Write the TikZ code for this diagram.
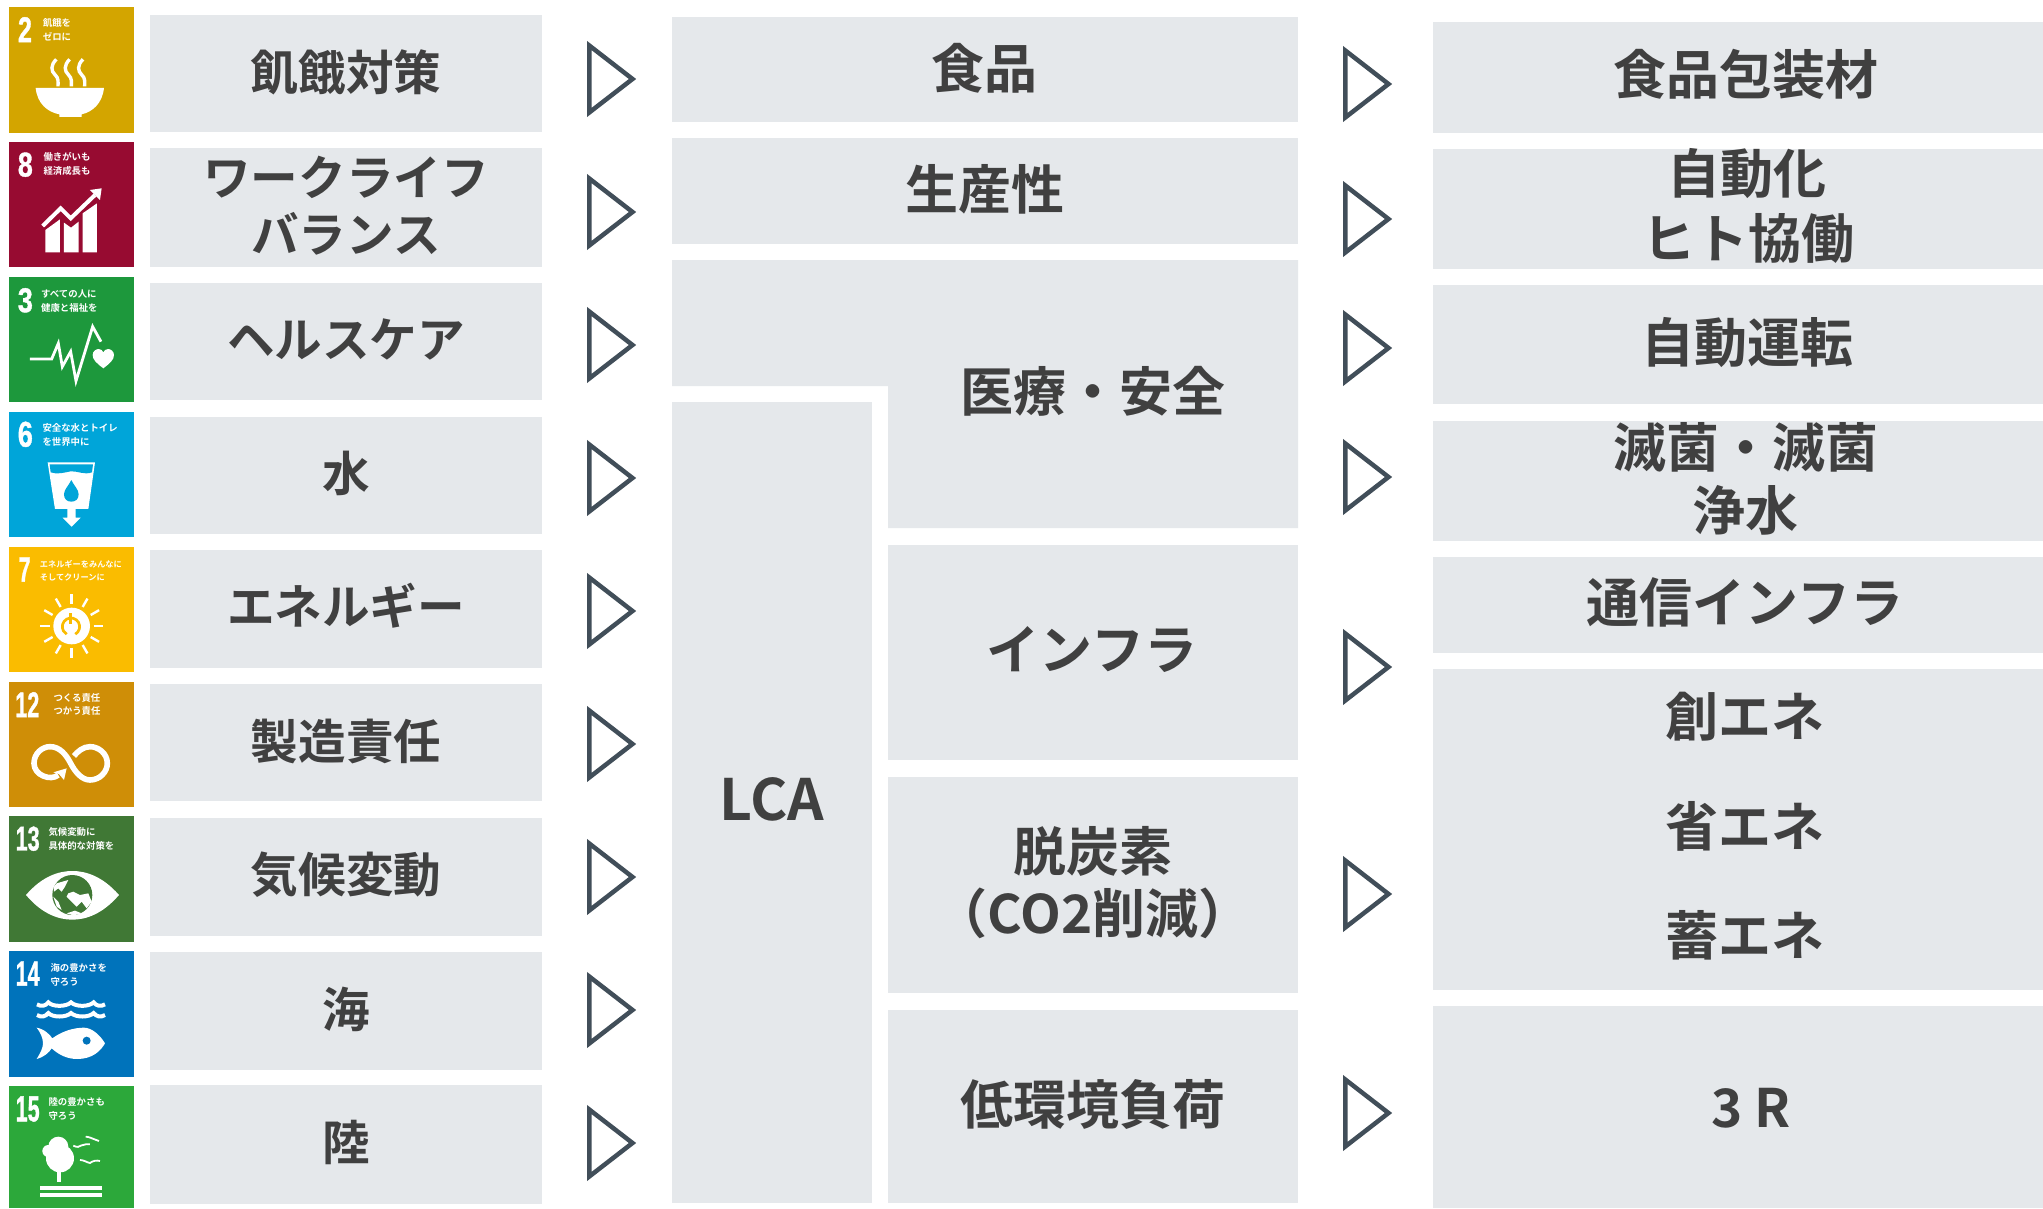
\documentclass[tikz,border=0pt]{standalone}
\usepackage{fontspec}
\usepackage{graphicx}
\newfontfamily\jpm{Noto Sans CJK JP Bold}
\newfontfamily\jpb{Noto Sans CJK JP Bold}
\newfontfamily\numf[FakeBold=1.2]{Liberation Sans Bold}
\definecolor{boxgray}{HTML}{E5E8EB}
\definecolor{txt}{HTML}{404040}
\definecolor{arr}{HTML}{414E59}
\definecolor{cA}{HTML}{D3A500}
\definecolor{cB}{HTML}{970B31}
\definecolor{cC}{HTML}{1D983C}
\definecolor{cD}{HTML}{00A5D9}
\definecolor{cE}{HTML}{FABC00}
\definecolor{cF}{HTML}{CF8E07}
\definecolor{cG}{HTML}{407835}
\definecolor{cH}{HTML}{0073BB}
\definecolor{cI}{HTML}{2CA83A}
\newcommand\bx[4]{\fill[boxgray] (#1,#2) rectangle (#3,#4);}
\newcommand\lblA[4]{\node[lab,font=\jpm\fontsize{47.6}{47.6}\selectfont] (#1) at (#2,#3) {#4};}
\newcommand\lblB[4]{\node[lab,font=\jpm\fontsize{53}{53}\selectfont] (#1) at (#2,#3) {#4};}
\newcommand\tri[2]{\draw[line width=4.5pt,arr,miter limit=20] (#1+2.25,#2-33.5) -- (#1+45.5,#2) -- (#1+2.25,#2+33.5) -- cycle;}
\newcommand\tnum[6]{\node[inner sep=0pt,white] (#1) at (#2,#3) {\resizebox{#4pt}{#5pt}{\numf #6}};}
\newcommand\tsm[4]{\node[anchor=west,inner sep=0pt,white,font=\jpb\fontsize{9.4}{9.4}\selectfont] (#1) at (#2,#3) {#4};}
\begin{document}
\begin{tikzpicture}[x=1pt,y=-1pt,
  lab/.style={inner sep=0pt,text=txt,align=center},
  tl/.style={x=.3333pt,y=-.3333pt}]
\useasboundingbox (0,0) rectangle (2043,1208);
\fill[white] (0,0) rectangle (2043,1208);
% column 1 boxes
\bx{150}{15}{542}{132}
\bx{150}{148}{542}{267}
\bx{150}{283}{542}{400}
\bx{150}{417}{542}{534}
\bx{150}{550}{542}{668}
\bx{150}{684}{542}{801}
\bx{150}{818}{542}{936}
\bx{150}{952}{542}{1070}
\bx{150}{1085}{542}{1204}
\lblA{a1}{346}{72}{飢餓対策}
\lblA{a2a}{346}{177}{ワークライフ}
\lblA{a2b}{346}{234}{バランス}
\lblA{a3}{346}{339}{ヘルスケア}
\lblA{a4}{346}{473}{水}
\lblA{a5}{346}{606}{エネルギー}
\lblA{a6}{346}{741}{製造責任}
\lblA{a7}{346}{875}{気候変動}
\lblA{a8}{346}{1009}{海}
\lblA{a9}{346}{1142}{陸}
% arrows 1
\foreach \cy in {79,212,345,478,611,744,877,1010,1143} {\tri{587}{\cy}}
% column 2
\bx{672}{17}{1298}{122}
\bx{672}{138}{1298}{244}
\fill[boxgray] (672,260) -- (1298,260) -- (1298,528) -- (888,528) -- (888,386) -- (672,386) -- cycle;
\bx{672}{402}{872}{1203}
\bx{888}{545}{1298}{760}
\bx{888}{777}{1298}{993}
\bx{888}{1010}{1298}{1203}
\lblB{b1}{984}{68}{食品}
\lblB{b2}{985}{189}{生産性}
\lblB{b3}{1093}{391}{医療・安全}
\node[lab,font=\jpm\fontsize{57}{57}\selectfont] (b4) at (772,799) {LCA};
\lblB{b5}{1092}{650}{インフラ}
\lblB{b6a}{1093}{851}{脱炭素}
\lblB{b6b}{1093}{913}{（CO2削減）}
\lblB{b7}{1093}{1104}{低環境負荷}
% arrows 2
\foreach \cy in {84,219,348,477,667,894,1113} {\tri{1343}{\cy}}
% column 3
\bx{1433}{22}{2043}{133}
\bx{1433}{149}{2043}{269}
\bx{1433}{285}{2043}{404}
\bx{1433}{421}{2043}{541}
\bx{1433}{557}{2043}{653}
\bx{1433}{669}{2043}{990}
\bx{1433}{1006}{2043}{1208}
\lblB{c1}{1746}{74}{食品包装材}
\lblB{c2a}{1747}{174}{自動化}
\lblB{c2b}{1748}{238}{ヒト協働}
\lblB{c3}{1747}{343}{自動運転}
\lblB{c4a}{1746}{447}{滅菌・滅菌}
\lblB{c4b}{1745}{510}{浄水}
\lblB{c5}{1745}{602}{通信インフラ}
\lblB{c6a}{1745}{717}{創エネ}
\lblB{c6b}{1745}{826}{省エネ}
\lblB{c6c}{1745}{935}{蓄エネ}
\lblB{c7}{1751}{1108}{3 R}
% tile 2
\begin{scope}[shift={(9,7)},tl]
\fill[cA] (0,0) rectangle (375,378);
\tnum{n2}{48}{68}{14}{25}{2}
\tsm{s2a}{101}{47}{飢餓を}
\tsm{s2b}{101}{90}{ゼロに}
\fill[white] (80,243) -- (285,243) .. controls (280,290) and (250,315) .. (218,322) -- (218,330) -- (151,330) -- (151,322) .. controls (115,315) and (85,290) .. (80,243) -- cycle;
\foreach \xx in {138,178,218}
  \draw[white,line width=3.4pt] (\xx+4,157) .. controls (\xx-14,175) and (\xx-12,192) .. (\xx,203) .. controls (\xx+12,214) and (\xx+9,226) .. (\xx+9,238);
\end{scope}
% tile 8
\begin{scope}[shift={(9,142)},tl]
\fill[cB] (0,0) rectangle (375,375);
\tnum{n8}{49}{68}{15}{24}{8}
\tsm{s8a}{103}{46}{働きがいも}
\tsm{s8b}{103}{87}{経済成長も}
\fill[white] (109,331) -- (109,264) -- (153,232) -- (153,331) -- cycle;
\fill[white] (165,331) -- (165,242) -- (186,257) -- (209,239) -- (209,331) -- cycle;
\fill[white] (221,331) -- (221,214) -- (264,184) -- (264,331) -- cycle;
\draw[white,line width=4pt] (101,252) -- (155,199) -- (185,229) -- (258,159);
\fill[white] (278,139) -- (243,144) -- (273,174) -- cycle;
\end{scope}
% tile 3
\begin{scope}[shift={(9,277)},tl]
\fill[cC] (0,0) rectangle (375,375);
\tnum{n3}{49}{70}{15}{24}{3}
\tsm{s3a}{96}{50}{すべての人に}
\tsm{s3b}{96}{92}{健康と福祉を}
\draw[white,line width=2.8pt,line join=miter] (63,246) -- (128,246) -- (148,199) -- (160,269) -- (185,224) -- (201,312) -- (251,149) -- (276,194);
\fill[white] (283,274) .. controls (262,258) and (251,248) .. (251,234) .. controls (251,222) and (262,216) .. (269,216) .. controls (276,216) and (281,221) .. (283,226) .. controls (285,221) and (290,216) .. (297,216) .. controls (304,216) and (315,222) .. (315,234) .. controls (315,248) and (304,258) .. (283,274) -- cycle;
\end{scope}
% tile 6
\begin{scope}[shift={(9,412)},tl]
\fill[cD] (0,0) rectangle (375,375);
\tnum{n6}{49}{67}{15}{25}{6}
\tsm{s6a}{100}{49}{安全な水とトイレ}
\tsm{s6b}{100}{91}{を世界中に}
\fill[white] (116,151) -- (258,151) -- (238,291) -- (200,291) -- (200,317) -- (215,317) -- (188,344) -- (161,317) -- (175,317) -- (175,291) -- (138,291) -- cycle;
\fill[cD] (122,157) -- (252,157) -- (249,181) .. controls (225,190) and (205,176) .. (185,178) .. controls (165,182) and (145,188) .. (125,181) -- cycle;
\fill[cD] (187,204) .. controls (180,220) and (165,232) .. (165,247) .. controls (165,262) and (175,269) .. (187,269) .. controls (199,269) and (209,262) .. (209,247) .. controls (209,232) and (194,220) .. (187,204) -- cycle;
\end{scope}
% tile 7
\begin{scope}[shift={(9,547)},tl]
\fill[cE] (0,0) rectangle (375,375);
\tnum{n7}{47}{68}{12}{24}{7}
\tsm{s7a}{92}{51}{\fontsize{8.2}{8.2}\selectfont エネルギーをみんなに}
\tsm{s7b}{92}{92}{\fontsize{8.2}{8.2}\selectfont そしてクリーンに}
\fill[white] (188,237) circle[radius=55];
\foreach \ang in {0,30,...,330}
  \draw[white,line width=2.4pt] (188,237) ++(\ang:66) -- ++(\ang:29);
\draw[cE,line width=2.7pt] (186,239) ++(60:26) arc[start angle=60,end angle=-240,radius=26];
\draw[cE,line width=2.7pt] (185,199) -- (185,232);
\end{scope}
% tile 12
\begin{scope}[shift={(9,682)},tl]
\fill[cF] (0,0) rectangle (375,375);
\tnum{n12}{55}{68}{24}{25}{12}
\tsm{s12a}{133}{48}{つくる責任}
\tsm{s12b}{133}{87}{つかう責任}
\draw[white,line width=5.6pt] (148,279) .. controls (125,298) and (75,280) .. (75,244) .. controls (75,214) and (100,194) .. (123,194) .. controls (153,194) and (172,219) .. (185,244) .. controls (198,269) and (218,294) .. (243,294) .. controls (273,294) and (295,269) .. (295,244) .. controls (295,214) and (268,194) .. (243,194) .. controls (223,194) and (205,209) .. (195,222);
\fill[white] (173,259) -- (133,271) -- (150,276) -- (165,294) -- cycle;
\end{scope}
% tile 13
\begin{scope}[shift={(9,816)},tl]
\fill[cG] (0,0) rectangle (375,378);
\tnum{n13}{56}{68}{24}{24}{13}
\tsm{s13a}{118}{47}{気候変動に}
\tsm{s13b}{118}{89}{具体的な対策を}
\fill[white] (51,237) .. controls (100,180) and (150,165) .. (190,165) .. controls (230,165) and (280,180) .. (330,237) .. controls (280,295) and (230,311) .. (190,311) .. controls (150,311) and (100,295) .. (51,237) -- cycle;
\fill[cG] (190,237) circle[radius=60];
\fill[white] (143,202) -- (178,192) -- (168,212) -- (158,227) -- (148,217) -- (135,227) -- (135,212) -- cycle;
\fill[white] (178,232) -- (193,227) -- (213,237) -- (238,232) -- (248,257) -- (233,277) -- (218,257) -- (203,272) -- (188,257) -- (173,242) -- cycle;
\fill[white] (173,292) -- (198,284) -- (218,292) -- (193,298) -- cycle;
\fill[white] (133,242) -- (148,257) -- (158,282) -- (143,272) -- cycle;
\end{scope}
% tile 14
\begin{scope}[shift={(9,951)},tl]
\fill[cH] (0,0) rectangle (375,378);
\tnum{n14}{56}{68}{24}{24}{14}
\tsm{s14a}{124}{50}{海の豊かさを}
\tsm{s14b}{124}{92}{守ろう}
\foreach \yy in {0,32}
  \draw[white,line width=4pt] (84,160+\yy) .. controls (97,168+\yy) and (110,165+\yy) .. (118,154+\yy) .. controls (130,168+\yy) and (172,168+\yy) .. (186,154+\yy) .. controls (200,168+\yy) and (240,168+\yy) .. (254,154+\yy) .. controls (262,165+\yy) and (275,168+\yy) .. (288,160+\yy);
\fill[white] (83,230) .. controls (110,235) and (125,255) .. (130,262) .. controls (160,240) and (195,230) .. (225,230) .. controls (250,230) and (275,255) .. (288,277) .. controls (275,300) and (250,324) .. (205,324) .. controls (175,324) and (150,312) .. (128,292) .. controls (120,305) and (105,318) .. (83,324) .. controls (95,305) and (102,290) .. (102,277) .. controls (102,262) and (95,245) .. (83,230) -- cycle;
\fill[cH] (233,269) circle[radius=12];
\end{scope}
% tile 15
\begin{scope}[shift={(9,1086)},tl]
\fill[cI] (0,0) rectangle (375,366);
\tnum{n15}{56}{69}{24}{25}{15}
\tsm{s15a}{118}{49}{陸の豊かさも}
\tsm{s15b}{118}{90}{守ろう}
\fill[white] (148,182) circle[radius=30];
\fill[white] (118,195) circle[radius=18];
\fill[white] (153,217) circle[radius=42];
\fill[white] (144,257) rectangle (156,287);
\fill[white] (93,299) rectangle (279,313);
\fill[white] (93,320) rectangle (279,334);
\draw[white,line width=1.8pt] (193,179) .. controls (203,184) and (212,184) .. (218,178) .. controls (225,174) and (235,175) .. (243,175);
\draw[white,line width=1.8pt] (230,152) .. controls (240,152) and (250,158) .. (270,165);
\draw[white,line width=1.8pt] (213,222) .. controls (225,222) and (235,230) .. (243,231) .. controls (250,225) and (262,222) .. (273,225);
\end{scope}
\end{tikzpicture}
\end{document}
